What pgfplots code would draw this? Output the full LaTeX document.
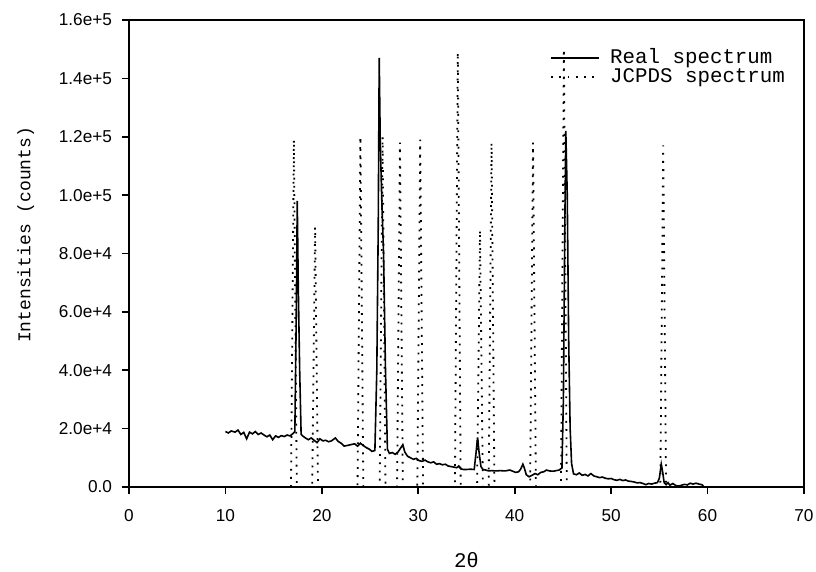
\documentclass[border=0pt]{standalone}
\usepackage{pgfplots}
\pgfplotsset{compat=1.18}
\usepackage{fontspec}
\setmainfont{Liberation Sans}
\newfontfamily\monofont{Liberation Mono}
\begin{document}
\begin{tikzpicture}
\begin{axis}[
  at={(0,0)}, anchor=south west,
  scale only axis, width=337.5pt, height=233.5pt,
  xmin=0, xmax=70, ymin=0, ymax=160000,
  axis line style={line width=0.9pt},
  tick pos=left, tick align=outside,
  major tick length=3.5pt,
  tick style={line width=0.8pt, black},
  xtick={0,10,...,70}, xticklabels={0,10,20,30,40,50,60,70},
  ytick={0,20000,...,160000},
  yticklabels={0.0,2.0e+4,4.0e+4,6.0e+4,8.0e+4,1.0e+5,1.2e+5,1.4e+5,1.6e+5},
  scaled y ticks=false,
  ticklabel style={font=\fontsize{8.6}{10}\selectfont},
  xticklabel style={yshift=-4pt},
  yticklabel style={xshift=-1.5pt},
  xlabel={2θ}, ylabel={Intensities (counts)},
  xlabel style={at={(axis description cs:0.5,-0.1563)}, anchor=center, font=\monofont\fontsize{10.4}{12}\selectfont},
  ylabel style={at={(axis description cs:-0.153,0.54)}, anchor=center, rotate=0, font=\monofont\fontsize{9}{11}\selectfont},
  legend style={at={(axis description cs:0.6237,0.948)}, anchor=north west, draw=none, fill=none,
    font=\monofont\fontsize{10.4}{12}\selectfont, row sep=-3pt, inner sep=0pt},
  legend cell align=left,
  reverse legend,
  legend image code/.code={\draw[#1] (0pt,0pt) -- (24pt,0pt); \path (27pt,0pt);},
]
% JCPDS reference lines drawn as thin dotted peaks
\addplot[black, line width=0.9pt, dash pattern=on 0.9pt off 3.2pt] coordinates {
(16.8,0) (17.1,119000) (17.4,0)
(19.0,0) (19.3,89000) (19.6,0)
(23.7,0) (24.0,120000) (24.3,0)
(26.0,0) (26.3,120000) (26.6,0)
(27.8,0) (28.1,118000) (28.4,0)
(29.9,0) (30.2,119000) (30.5,0)
(33.8,0) (34.1,149000) (34.4,0)
(36.1,0) (36.4,88000) (36.7,0)
(37.3,0) (37.6,118000) (37.9,0)
(41.6,0) (41.9,118000) (42.2,0)
(44.8,0) (45.1,150000) (45.4,0)
(55.1,0) (55.4,117000) (55.7,0)
};
\addlegendentry{JCPDS spectrum}
\addplot[black, line width=0.8pt] table {
x y
10.0 19000
10.3 18500
10.6 19200
11.0 18800
11.3 19500
11.6 18000
11.9 18700
12.2 16500
12.5 18800
12.8 18200
13.1 19000
13.4 18000
13.7 18500
14.0 17800
14.3 17200
14.6 17800
14.9 16200
15.2 17500
15.5 17000
15.8 17600
16.1 17300
16.4 17800
16.7 17500
17.0 18300
17.2 19000
17.35 60000
17.45 98000
17.55 70000
17.7 40000
17.85 18000
18.0 17500
18.3 16800
18.6 16200
18.9 16800
19.2 16000
19.5 15200
19.8 16500
20.1 15800
20.4 16000
20.7 15500
21.0 15800
21.4 16800
21.7 15600
22.0 15000
22.3 14000
22.6 14200
23.0 14500
23.4 14800
23.7 14000
24.0 15000
24.3 14200
24.6 13500
24.9 13000
25.2 12200
25.5 12500
25.7 40000
25.85 90000
25.95 147000
26.05 120000
26.2 100000
26.4 80000
26.6 40000
26.8 13000
27.0 11500
27.3 11800
27.6 11200
27.9 12000
28.2 13500
28.4 14500
28.6 12000
28.9 10500
29.2 10000
29.5 9500
29.8 9800
30.1 9000
30.4 8800
30.7 9200
31.0 8600
31.3 8300
31.6 8600
31.9 7800
32.2 8000
32.5 7600
32.8 7800
33.1 7200
33.4 7000
33.7 6800
34.0 6600
34.2 7200
34.4 6200
34.7 6000
35.0 6000
35.4 6100
35.8 6000
36.0 12000
36.15 17000
36.3 12000
36.5 7000
36.7 6000
37.0 5800
37.3 5500
37.6 5600
38.0 5500
38.5 5600
39.0 5500
39.5 5800
39.8 5400
40.1 5000
40.4 5200
40.6 6000
40.85 7800
41.0 6500
41.2 4200
41.5 3500
41.8 4000
42.1 4600
42.4 4200
42.7 5000
43.0 5200
43.3 5800
43.6 5500
44.0 5400
44.3 5600
44.6 5800
44.9 6500
45.05 30000
45.2 90000
45.3 122000
45.45 100000
45.6 50000
45.75 20000
45.9 8000
46.1 4500
46.4 4200
46.7 4800
47.0 4000
47.3 4300
47.6 3800
47.9 4600
48.2 3800
48.5 3500
48.8 3200
49.1 3400
49.4 3000
49.7 2800
50.0 2900
50.3 2500
50.6 2300
50.9 2600
51.2 2200
51.5 2400
51.8 2000
52.1 1900
52.4 1700
52.7 1400
53.0 1500
53.3 1200
53.6 800
53.9 1200
54.2 1000
54.5 1300
54.8 1500
55.0 3000
55.2 7800
55.35 5000
55.5 1500
55.7 800
55.9 1500
56.1 600
56.4 1200
56.7 500
57.0 300
57.3 600
57.6 900
57.9 700
58.2 1300
58.5 1000
58.8 1300
59.1 1000
59.4 800
59.6 200
};
\addlegendentry{Real spectrum}
\end{axis}
\pgfresetboundingbox
\path[use as bounding box] (-64.5pt,-42.5pt) rectangle (343.5pt,243.5pt);
\end{tikzpicture}
\end{document}
